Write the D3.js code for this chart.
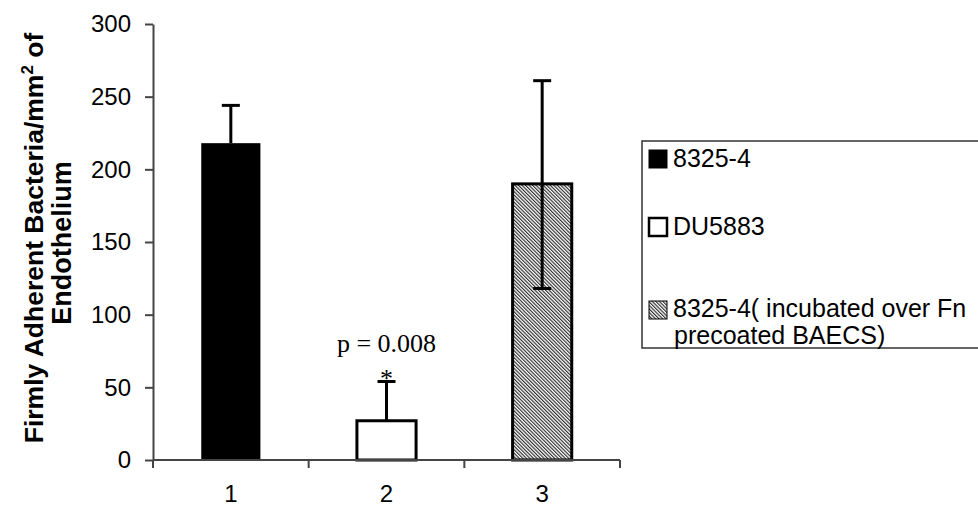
<!DOCTYPE html>
<html><head><meta charset="utf-8">
<script src="https://cdn.jsdelivr.net/npm/d3@7/dist/d3.min.js"></script>
<style>body{margin:0;background:#fff}svg{display:block}</style>
</head><body>
<svg id="c" width="978" height="506"></svg>
<script>
const categories = ["1","2","3"];
const means = [218, 27, 190];
const errUp = [244, 54, 261];
const errLow = [218, 27, 118];
const seriesNames = ["8325-4","DU5883","8325-4( incubated over Fn","precoated BAECS)"];
const yTicks = [0,50,100,150,200,250,300];

const SANS = "Liberation Sans, Arial, sans-serif";
const SERIF = "Liberation Serif, Times New Roman, serif";

const svg = d3.select("#c");
const defs = svg.append("defs");
const pat = defs.append("pattern").attr("id","hatch").attr("patternUnits","userSpaceOnUse")
  .attr("width",2.5).attr("height",2.5).attr("patternTransform","rotate(-45)");
pat.append("rect").attr("width",2.5).attr("height",2.5).attr("fill","#fff");
pat.append("line").attr("x1",0.6).attr("y1",0).attr("x2",0.6).attr("y2",2.5).attr("stroke","#222").attr("stroke-width",1.1);

const x0 = 153, x1 = 620, yTop = 24, yBot = 460;
const x = d3.scaleBand().domain(categories).range([x0,x1]).paddingInner(0.62).paddingOuter(0.31);
const y = d3.scaleLinear().domain([0,300]).range([yBot,yTop]);

const fills = ["#000","#fff","url(#hatch)"];

// bars
const g = svg.append("g");
g.selectAll("rect.bar").data(categories).join("rect")
  .attr("x",d=>x(d)).attr("width",x.bandwidth())
  .attr("y",(d,i)=>y(means[i])).attr("height",(d,i)=>y(0)-y(means[i]))
  .attr("fill",(d,i)=>fills[i]).attr("stroke","#000").attr("stroke-width",(d,i)=>i===0?0:3);

// error bars
categories.forEach((c,i)=>{
  const cx = x(c)+x.bandwidth()/2;
  g.append("line").attr("x1",cx).attr("x2",cx).attr("y1",y(errLow[i])).attr("y2",y(errUp[i]))
    .attr("stroke","#000").attr("stroke-width",3);
  g.append("line").attr("x1",cx-9).attr("x2",cx+9).attr("y1",y(errUp[i])).attr("y2",y(errUp[i]))
    .attr("stroke","#000").attr("stroke-width",3);
  if (errLow[i] < means[i]) {
    g.append("line").attr("x1",cx-9).attr("x2",cx+9).attr("y1",y(errLow[i])).attr("y2",y(errLow[i]))
      .attr("stroke","#000").attr("stroke-width",3);
  }
});

// axes
const yAxis = d3.axisLeft(y).tickValues(yTicks).tickSize(8).tickSizeOuter(0);
const ya = svg.append("g").attr("transform",`translate(${x0},0)`).call(yAxis);
ya.attr("font-size",null).attr("font-family",null);
ya.select(".domain").attr("stroke","#444").attr("stroke-width",2);
ya.selectAll(".tick line").attr("stroke","#444").attr("stroke-width",2);
ya.selectAll(".tick text").style("font-family",SANS).style("font-size","24px").attr("fill","#000").attr("x",-22);

// x axis
const xs = d3.scaleLinear().domain([0,3]).range([x0,x1]);
const xa = svg.append("g").attr("transform",`translate(0,${yBot})`);
xa.append("line").attr("x1",x0).attr("x2",x1).attr("stroke","#444").attr("stroke-width",2);
xa.selectAll("line.t").data([0,1,2,3]).join("line").attr("class","t")
  .attr("x1",d=>xs(d)).attr("x2",d=>xs(d)).attr("y1",0).attr("y2",8).attr("stroke","#444").attr("stroke-width",2);
xa.selectAll("text").data(categories).join("text")
  .attr("x",d=>x(d)+x.bandwidth()/2).attr("y",42).attr("text-anchor","middle")
  .style("font-family",SANS).style("font-size","24px").text(d=>d);

// y title
const yt = svg.append("text").attr("transform","translate(43,238) rotate(-90)")
  .attr("text-anchor","middle").attr("font-family",SANS)
  .attr("font-weight","bold").attr("font-size",26.5);
yt.append("tspan").text("Firmly Adherent Bacteria/mm");
yt.append("tspan").attr("font-size",17).attr("dy",-10).text("2");
yt.append("tspan").attr("dy",10).text(" of");
svg.append("text").attr("transform","translate(71,243) rotate(-90)")
  .attr("text-anchor","middle").attr("font-family",SANS)
  .attr("font-weight","bold").attr("font-size",27).text("Endothelium");

// annotation
const c2 = x("2")+x.bandwidth()/2;
svg.append("text").attr("x",c2).attr("y",352).attr("text-anchor","middle")
  .attr("font-family",SERIF).attr("font-size",26).text("p = 0.008");
svg.append("text").attr("x",c2).attr("y",387).attr("text-anchor","middle")
  .attr("font-family",SERIF).attr("font-size",26).text("*");

// legend
const lg = svg.append("g");
lg.append("rect").attr("x",642).attr("y",141).attr("width",345).attr("height",207)
  .attr("fill","none").attr("stroke","#333").attr("stroke-width",1.5);
const legY = [159, 227, 310];
[0,1,2].forEach(i=>{
  lg.append("rect").attr("x",649).attr("y",legY[i]-9).attr("width",18).attr("height",18)
    .attr("fill",fills[i]).attr("stroke","#000").attr("stroke-width",i===1?2.5:1);
});
lg.append("text").attr("x",673).attr("y",167).attr("font-family",SANS).attr("font-size",25).text(seriesNames[0]);
lg.append("text").attr("x",673).attr("y",235).attr("font-family",SANS).attr("font-size",25).text(seriesNames[1]);
const l3 = lg.append("text").attr("x",673).attr("y",317).attr("font-family",SANS).attr("font-size",25);
l3.append("tspan").attr("x",673).text(seriesNames[2]);
l3.append("tspan").attr("x",674).attr("dy",27).text(seriesNames[3]);
</script>
</body></html>
